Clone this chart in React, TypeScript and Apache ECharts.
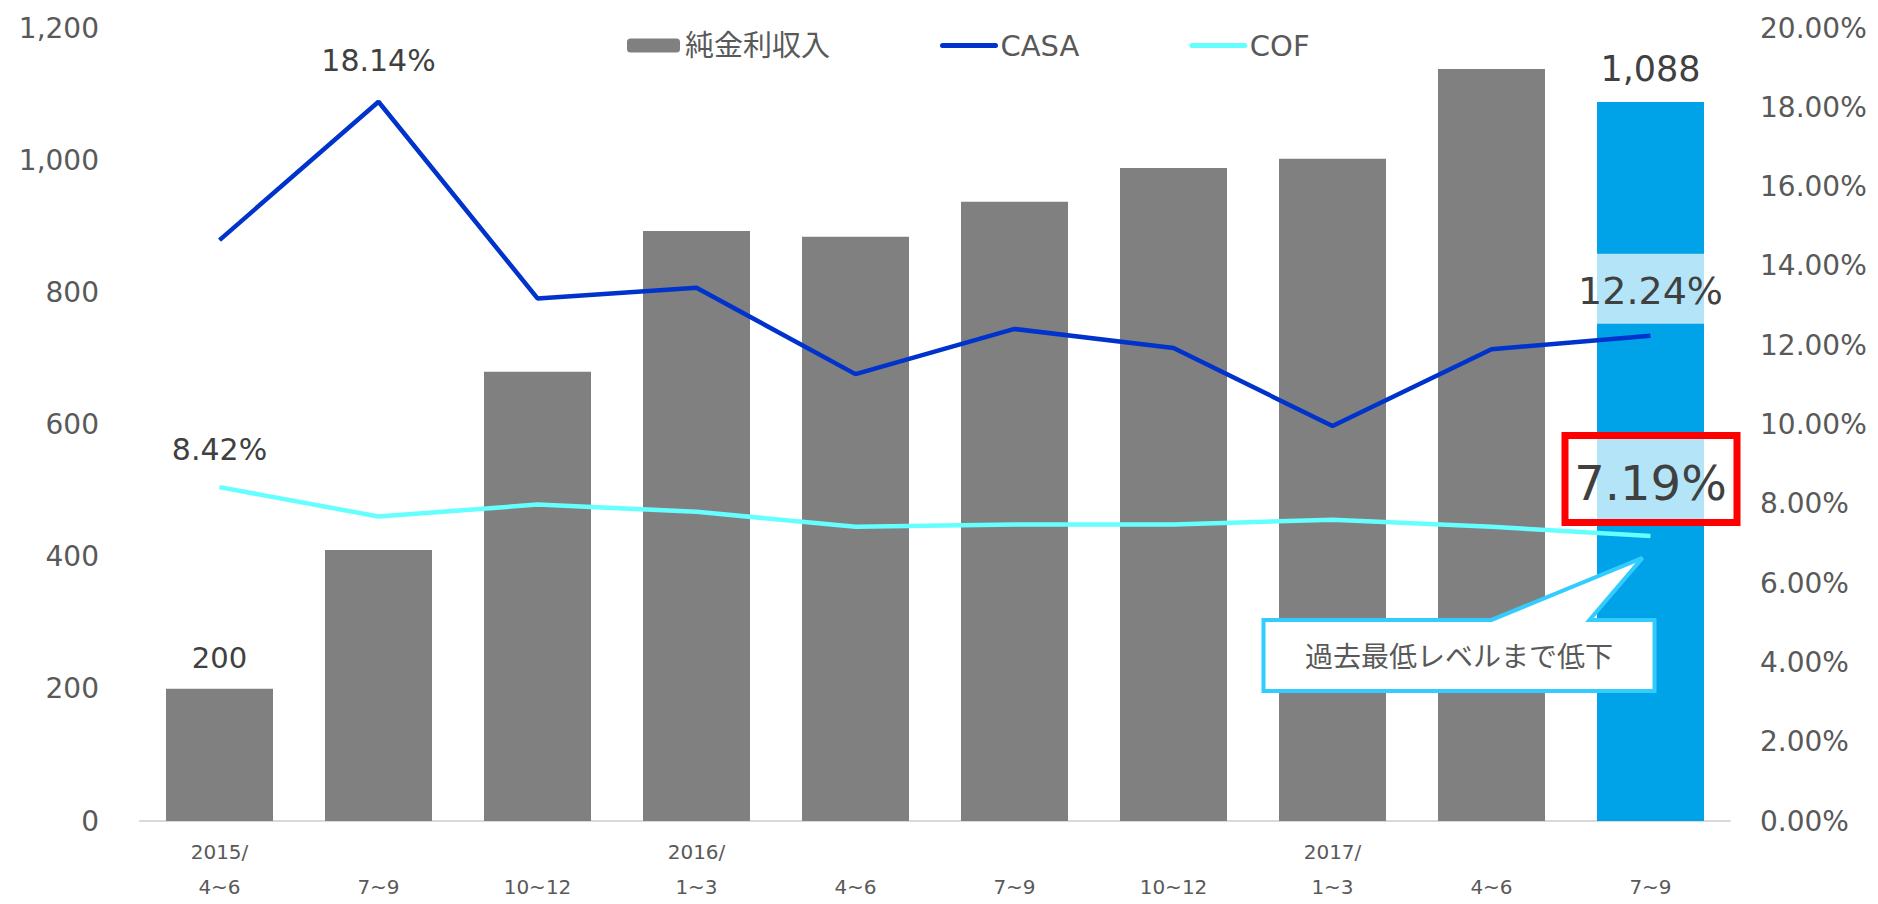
import React, { useEffect, useRef } from "react";
import * as echarts from "echarts";

const categories = ["2015/\n4~6", "7~9", "10~12", "2016/\n1~3", "4~6", "7~9", "10~12", "2017/\n1~3", "4~6", "7~9"];
const netInterestIncome = [200, 410, 680, 893, 884, 937, 988, 1002, 1138, 1088];
const casa = [14.65, 18.14, 13.18, 13.45, 11.27, 12.41, 11.93, 9.96, 11.9, 12.24];
const cof = [8.42, 7.68, 7.98, 7.8, 7.42, 7.48, 7.48, 7.6, 7.42, 7.19];
const leftTicks = { min: 0, max: 1200, interval: 200 };
const rightTicks = { min: 0, max: 20, interval: 2 };
const seriesNames = ["純金利収入", "CASA", "COF"];
const calloutText = "過去最低レベルまで低下";

const FONT = "'DejaVu Sans', 'Noto Sans CJK JP', sans-serif";
const GRAY = "#808080";
const BLUE_BAR = "#00A2E8";
const CASA_COLOR = "#0033CC";
const COF_COLOR = "#66FFFF";
const LIGHT = "#B4E4F8";
const LABEL = "#404040";
const AXIS_TXT = "#595959";
const BAR_W = 107;

export default function App() {
  const ref = useRef<HTMLDivElement>(null);
  useEffect(() => {
    if (!ref.current) return;
    const chart = echarts.init(ref.current, null, { renderer: "svg" });
    const last = categories.length - 1;
    const pct = (p: any) => Number(p.value).toFixed(2) + "%";

    const barData = netInterestIncome.map((v, i) => {
      const item: any = { value: v };
      if (i === last) item.itemStyle = { color: BLUE_BAR };
      if (i === 0) item.label = { show: true, fontSize: 29 };
      if (i === last) item.label = { show: true, fontSize: 35 };
      return item;
    });
    const casaData = casa.map((v, i) => {
      const item: any = { value: v };
      if (i === 1) item.label = { show: true, fontSize: 30, offset: [0, -41] };
      if (i === last) item.label = { show: true, fontSize: 38, offset: [0, -45] };
      return item;
    });
    const cofData = cof.map((v, i) => {
      const item: any = { value: v };
      if (i === 0) item.label = { show: true, fontSize: 30, offset: [0, -38] };
      if (i === last) item.label = { show: true, fontSize: 48, offset: [0, -53] };
      return item;
    });

    chart.setOption({
      animation: false,
      backgroundColor: "#FFFFFF",
      textStyle: { fontFamily: FONT },
      grid: { left: 140, right: 148, top: 28, bottom: 74 },
      legend: {
        data: [
          { name: seriesNames[0] },
          { name: seriesNames[1], itemStyle: { color: "rgba(0,0,0,0)", borderWidth: 0 }, lineStyle: { width: 5, cap: "round", color: CASA_COLOR } },
          { name: seriesNames[2], itemStyle: { color: "rgba(0,0,0,0)", borderWidth: 0 }, lineStyle: { width: 5, cap: "round", color: COF_COLOR } },
        ],
        left: 627,
        top: 31,
        padding: 0,
        itemWidth: 53,
        itemHeight: 14,
        itemGap: 110,
        textStyle: { fontSize: 29, color: AXIS_TXT, fontFamily: FONT },
      },
      xAxis: {
        type: "category",
        data: categories,
        axisTick: { show: false },
        axisLine: { lineStyle: { color: "#D9D9D9", width: 2 } },
        axisLabel: {
          interval: 0,
          margin: 13,
          fontSize: 20,
          lineHeight: 35,
          color: AXIS_TXT,
          fontFamily: FONT,
          formatter: (v: string) => (v.includes("\n") ? v : "\n" + v),
        },
      },
      yAxis: [
        {
          type: "value",
          ...leftTicks,
          splitLine: { show: false },
          axisLine: { show: false },
          axisTick: { show: false },
          axisLabel: {
            fontSize: 28,
            margin: 41,
            color: AXIS_TXT,
            fontFamily: FONT,
            formatter: (v: number) => v.toLocaleString("en-US"),
          },
        },
        {
          type: "value",
          ...rightTicks,
          splitLine: { show: false },
          axisLine: { show: false },
          axisTick: { show: false },
          axisLabel: {
            fontSize: 28,
            margin: 30,
            color: AXIS_TXT,
            fontFamily: FONT,
            formatter: (v: number) => v.toFixed(2) + "%",
          },
        },
      ],
      series: [
        {
          name: seriesNames[0],
          type: "bar",
          yAxisIndex: 0,
          barWidth: BAR_W,
          itemStyle: { color: GRAY },
          data: barData,
          z: 2,
          label: {
            show: false,
            position: "top",
            distance: 16,
            color: LABEL,
            fontFamily: FONT,
            formatter: (p: any) => Number(p.value).toLocaleString("en-US"),
          },
        },
        {
          name: seriesNames[1],
          type: "line",
          yAxisIndex: 1,
          data: casaData,
          symbol: "circle",
          symbolSize: 0.1,
          showSymbol: true,
          itemStyle: { color: CASA_COLOR },
          lineStyle: { color: CASA_COLOR, width: 4.5 },
          z: 10,
          label: { show: false, position: "inside", color: LABEL, fontFamily: FONT, formatter: pct },
        },
        {
          name: seriesNames[2],
          type: "line",
          yAxisIndex: 1,
          data: cofData,
          symbol: "circle",
          symbolSize: 0.1,
          showSymbol: true,
          itemStyle: { color: COF_COLOR },
          lineStyle: { color: COF_COLOR, width: 4.5 },
          z: 10,
          label: { show: false, position: "inside", color: LABEL, fontFamily: FONT, formatter: pct },
        },
      ],
    });

    const [cx, cy] = chart.convertToPixel({ seriesIndex: 1 }, [last, casa[last]]) as number[];
    const [fx, fy] = chart.convertToPixel({ seriesIndex: 2 }, [last, cof[last]]) as number[];
    const half = BAR_W / 2;
    const T = fy + 84, B = fy + 155, L = fx - 387, R = fx + 4;

    chart.setOption({
      graphic: [
        { type: "rect", z: 5, shape: { x: cx - half, y: cy - 82, width: BAR_W, height: 70 }, style: { fill: LIGHT } },
        { type: "rect", z: 5, shape: { x: fx - half, y: fy - 97, width: BAR_W, height: 80 }, style: { fill: LIGHT } },
        { type: "rect", z: 5, shape: { x: fx - 85.5, y: fy - 100.5, width: 172, height: 87 }, style: { fill: "none", stroke: "#FF0000", lineWidth: 7 } },
        {
          type: "polygon",
          z: 5,
          shape: {
            points: [[L, T], [fx - 159, T], [fx - 8, fy + 22], [fx - 61, T], [R, T], [R, B], [L, B]],
          },
          style: { fill: "#FFFFFF", stroke: "#33CCFF", lineWidth: 4, lineJoin: "miter" },
        },
        {
          type: "text",
          z: 6,
          x: (L + R) / 2,
          y: (T + B) / 2,
          style: {
            text: calloutText,
            fill: AXIS_TXT,
            font: "28px 'Noto Sans CJK JP', sans-serif",
            align: "center",
            verticalAlign: "middle",
          },
        },
      ],
    });

    return () => chart.dispose();
  }, []);

  return <div ref={ref} style={{ position: "absolute", left: 0, top: 0, width: 1878, height: 904 }} />;
}
